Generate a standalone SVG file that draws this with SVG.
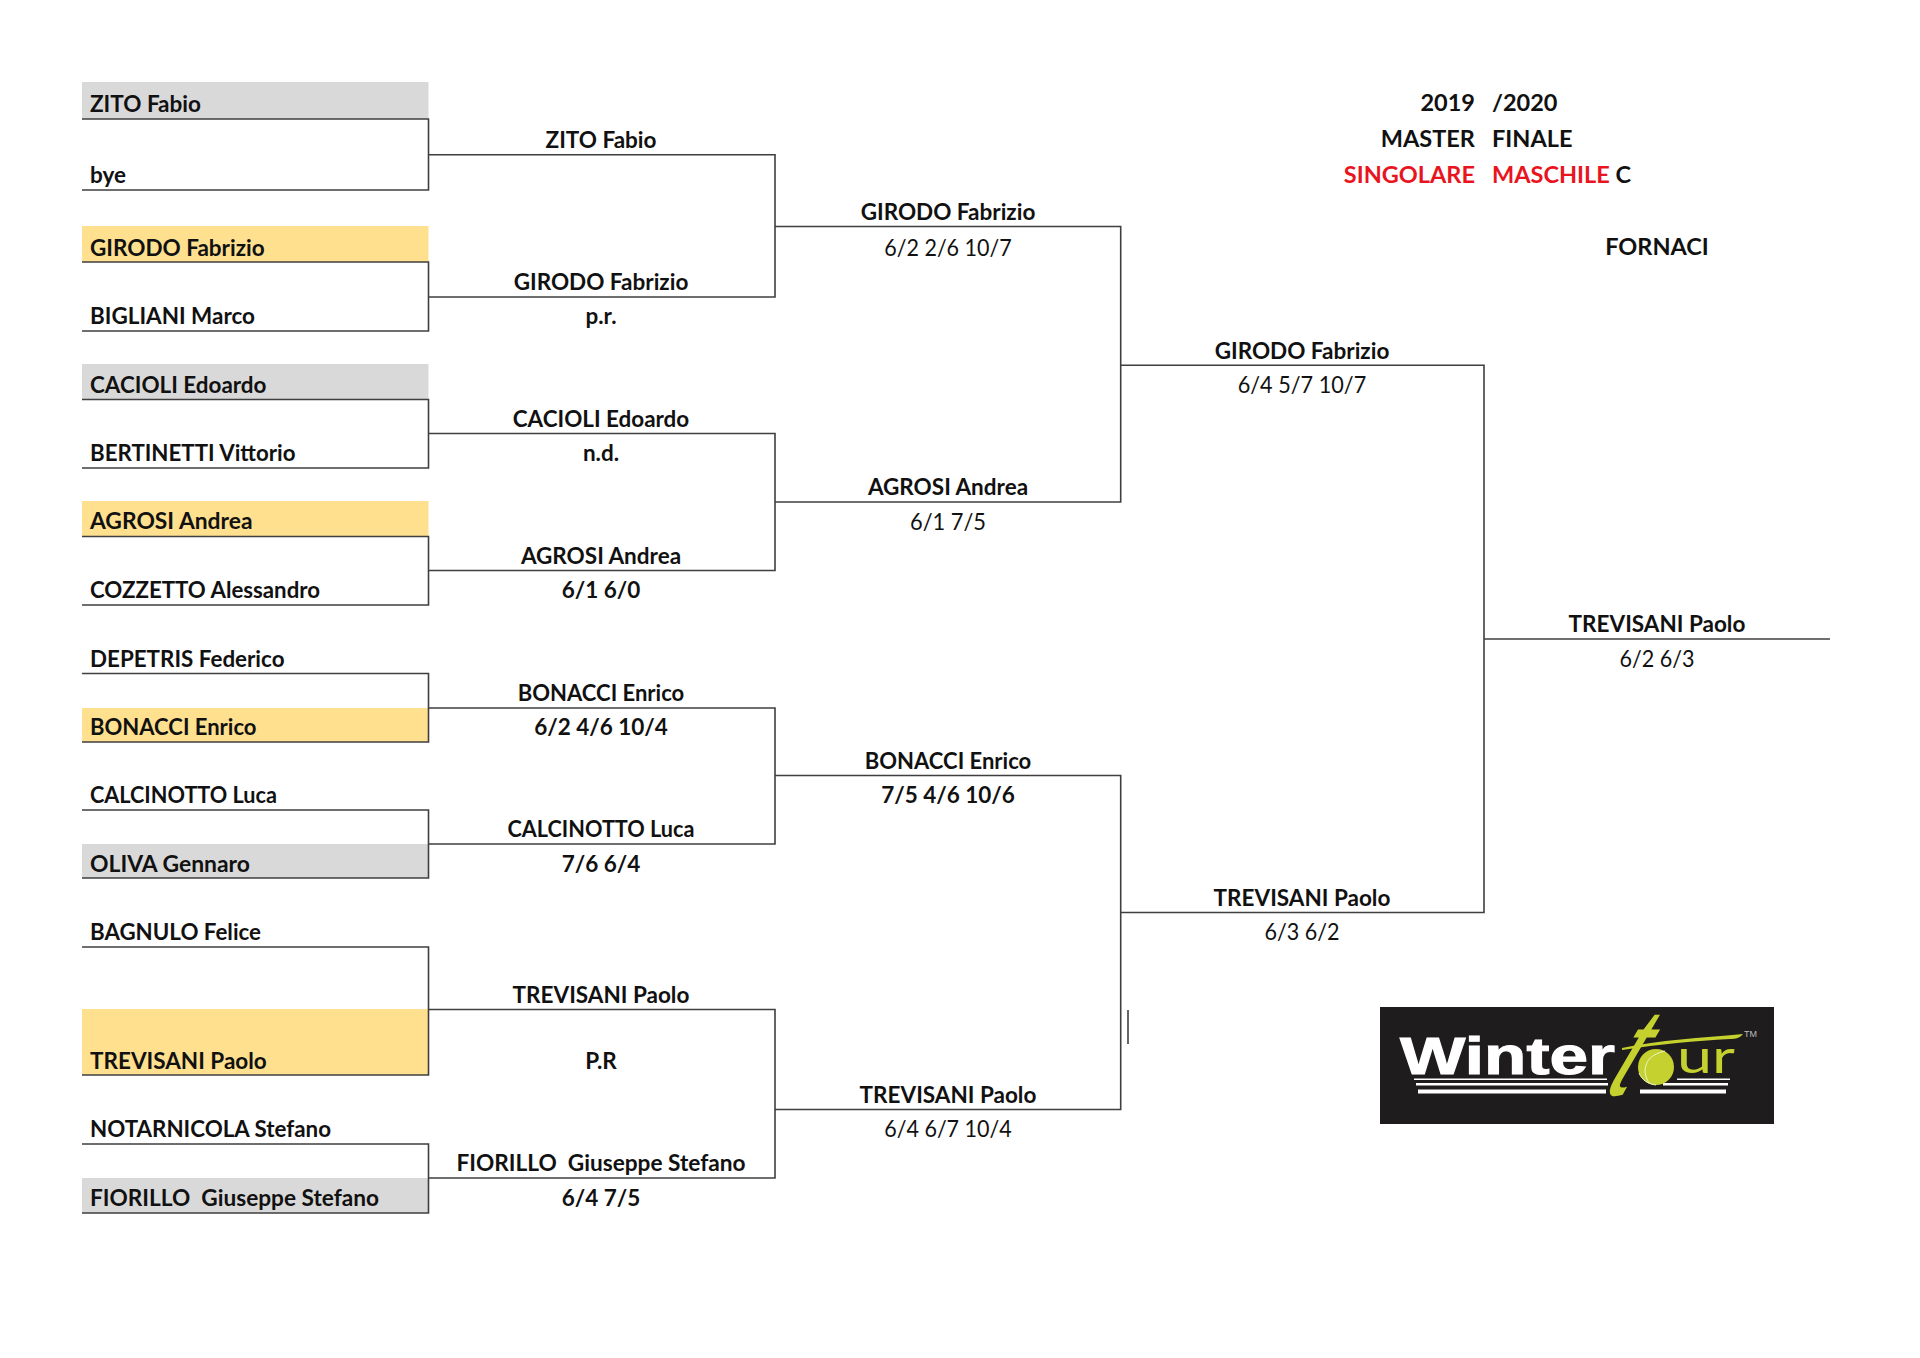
<svg xmlns="http://www.w3.org/2000/svg" width="1920" height="1358" viewBox="0 0 1920 1358">
<style>
text{font-family:"Lato","Carlito","Liberation Sans",sans-serif;font-size:22.5px;fill:#111;white-space:pre}
.b{font-weight:700}
.c{text-anchor:middle}
.e{text-anchor:end}
.red{fill:#e8141e}
.h{font-size:23.5px;font-weight:700}
.g{fill:#d9d9d9}
.y{fill:#ffe08f}
#connectors path{fill:none;stroke:#3f3f3f;stroke-width:1.6}
.stripe{fill:#fff}
.lime{fill:#c4d12e}
</style>
<rect width="1920" height="1358" fill="#fff"/>
<g id="fills">
<rect class="g" x="82" y="82" width="346.500" height="37"/>
<rect class="y" x="82" y="226" width="346.500" height="36"/>
<rect class="g" x="82" y="364" width="346.500" height="35.500"/>
<rect class="y" x="82" y="501" width="346.500" height="35.500"/>
<rect class="y" x="82" y="708" width="346.500" height="34"/>
<rect class="g" x="82" y="844" width="346.500" height="34"/>
<rect class="y" x="82" y="1009" width="346.500" height="66"/>
<rect class="g" x="82" y="1178" width="346.500" height="35"/>
</g>
<g id="connectors">
<path d="M82 119H428.500V190H82M428.500 154.700H775V297H428.500"/>
<path d="M82 262H428.500V331H82"/>
<path d="M82 399.500H428.500V468H82M428.500 433.500H775V570.500H428.500"/>
<path d="M82 536.500H428.500V605H82"/>
<path d="M82 673.500H428.500V742H82M428.500 708H775V844H428.500"/>
<path d="M82 810H428.500V878H82"/>
<path d="M82 947H428.500V1075H82M428.500 1009.500H775V1178H428.500"/>
<path d="M82 1144H428.500V1213H82"/>
<path d="M775 226.500H1120.700V502H775M1120.700 365.300H1484V912.500H1120.700"/>
<path d="M775 775.500H1120.700V1109.500H775"/>
<path d="M1484 639H1830"/>
<path d="M1128 1010V1044"/>
</g>
<g id="round1">
<text class="b" x="90" y="112">ZITO Fabio</text>
<text class="b" x="90" y="183">bye</text>
<text class="b" x="90" y="255.500">GIRODO Fabrizio</text>
<text class="b" x="90" y="324" textLength="165" lengthAdjust="spacingAndGlyphs">BIGLIANI Marco</text>
<text class="b" x="90" y="392.800" textLength="176.500" lengthAdjust="spacingAndGlyphs">CACIOLI Edoardo</text>
<text class="b" x="90" y="461" textLength="205.500" lengthAdjust="spacingAndGlyphs">BERTINETTI Vittorio</text>
<text class="b" x="90" y="528.800" textLength="162.500" lengthAdjust="spacingAndGlyphs">AGROSI Andrea</text>
<text class="b" x="90" y="598" textLength="230" lengthAdjust="spacingAndGlyphs">COZZETTO Alessandro</text>
<text class="b" x="90" y="666.500" textLength="194.500" lengthAdjust="spacingAndGlyphs">DEPETRIS Federico</text>
<text class="b" x="90" y="735" textLength="166.500" lengthAdjust="spacingAndGlyphs">BONACCI Enrico</text>
<text class="b" x="90" y="803" textLength="187" lengthAdjust="spacingAndGlyphs">CALCINOTTO Luca</text>
<text class="b" x="90" y="871.500" textLength="160" lengthAdjust="spacingAndGlyphs">OLIVA Gennaro</text>
<text class="b" x="90" y="940" textLength="171" lengthAdjust="spacingAndGlyphs">BAGNULO Felice</text>
<text class="b" x="90" y="1068.500">TREVISANI Paolo</text>
<text class="b" x="90" y="1137" textLength="241" lengthAdjust="spacingAndGlyphs">NOTARNICOLA Stefano</text>
<text class="b" x="90" y="1206" textLength="289" lengthAdjust="spacingAndGlyphs">FIORILLO  Giuseppe Stefano</text>
</g>
<g id="round2">
<text class="b c" x="601" y="147.500">ZITO Fabio</text>
<text class="b c" x="601" y="290">GIRODO Fabrizio</text>
<text class="b c" x="601" y="324">p.r.</text>
<text class="b c" x="601" y="426.500" textLength="176.500" lengthAdjust="spacingAndGlyphs">CACIOLI Edoardo</text>
<text class="b c" x="601" y="461">n.d.</text>
<text class="b c" x="601" y="563.500">AGROSI Andrea</text>
<text class="b c" x="601" y="598">6/1 6/0</text>
<text class="b c" x="601" y="701" textLength="166.500" lengthAdjust="spacingAndGlyphs">BONACCI Enrico</text>
<text class="b c" x="601" y="735">6/2 4/6 10/4</text>
<text class="b c" x="601" y="837" textLength="187" lengthAdjust="spacingAndGlyphs">CALCINOTTO Luca</text>
<text class="b c" x="601" y="871.500">7/6 6/4</text>
<text class="b c" x="601" y="1002.500">TREVISANI Paolo</text>
<text class="b c" x="601" y="1068.500">P.R</text>
<text class="b c" x="601" y="1171" textLength="289" lengthAdjust="spacingAndGlyphs">FIORILLO  Giuseppe Stefano</text>
<text class="b c" x="601" y="1206">6/4 7/5</text>
</g>
<g id="round3">
<text class="b c" x="948" y="219.500">GIRODO Fabrizio</text>
<text class="c" x="948" y="255.500" textLength="127.500" lengthAdjust="spacingAndGlyphs">6/2 2/6 10/7</text>
<text class="b c" x="948" y="495">AGROSI Andrea</text>
<text class="c" x="948" y="529.500" textLength="76" lengthAdjust="spacingAndGlyphs">6/1 7/5</text>
<text class="b c" x="948" y="768.800" textLength="166.500" lengthAdjust="spacingAndGlyphs">BONACCI Enrico</text>
<text class="b c" x="948" y="803">7/5 4/6 10/6</text>
<text class="b c" x="948" y="1102.800">TREVISANI Paolo</text>
<text class="c" x="948" y="1137" textLength="127.500" lengthAdjust="spacingAndGlyphs">6/4 6/7 10/4</text>
</g>
<g id="round4">
<text class="b c" x="1302" y="358.500">GIRODO Fabrizio</text>
<text class="c" x="1302" y="392.800" textLength="128.500" lengthAdjust="spacingAndGlyphs">6/4 5/7 10/7</text>
<text class="b c" x="1302" y="905.800">TREVISANI Paolo</text>
<text class="c" x="1302" y="940" textLength="75" lengthAdjust="spacingAndGlyphs">6/3 6/2</text>
</g>
<g id="final">
<text class="b c" x="1657" y="632">TREVISANI Paolo</text>
<text class="c" x="1657" y="666.500" textLength="75" lengthAdjust="spacingAndGlyphs">6/2 6/3</text>
</g>
<g id="header">
<text class="h e" x="1475" y="111">2019</text>
<text class="h" x="1492" y="111">/2020</text>
<text class="h e" x="1475" y="147">MASTER</text>
<text class="h" x="1492" y="147">FINALE</text>
<text class="h e red" x="1475" y="183">SINGOLARE</text>
<text class="h red" x="1492" y="183">MASCHILE</text>
<text class="h" x="1615.500" y="183">C</text>
<text class="h c" x="1657" y="255">FORNACI</text>
</g>
<g id="logo">
<rect x="1380" y="1007" width="394" height="117" fill="#1f1c1d"/>
<text x="1400" y="1074" textLength="215" lengthAdjust="spacingAndGlyphs" style="font-family:'Liberation Sans',sans-serif;font-weight:700;font-size:51px;fill:#fff;stroke:#fff;stroke-width:1">Winter</text>
<rect class="stripe" x="1414" y="1078.500" width="193" height="1.500"/>
<rect class="stripe" x="1416" y="1083" width="192" height="2.500"/>
<rect class="stripe" x="1418" y="1089.500" width="188" height="4"/>
<rect class="stripe" x="1677" y="1078.500" width="53" height="1.500"/>
<rect class="stripe" x="1663" y="1083" width="65" height="2.500"/>
<rect class="stripe" x="1640" y="1089.500" width="86" height="4"/>
<text transform="translate(1603 1095) skewX(-24) scale(.72 1)" style="font-family:'Liberation Sans',sans-serif;font-style:italic;font-size:124px;fill:#c4d12e">t</text>
<circle class="lime" cx="1656" cy="1067" r="18"/>
<path d="M1665 1051C1652 1054 1646 1060 1645 1070C1645 1075 1647 1080 1649 1083M1639 1073C1642 1080 1648 1084 1656 1085" fill="none" stroke="#f3f5d0" stroke-width="1"/>
<path d="M1622 1048C1660 1040 1700 1038 1743 1034C1740 1038 1736 1039 1730 1039C1695 1041 1660 1044 1622 1050Z" class="lime"/>
<text x="1677" y="1073" textLength="58" lengthAdjust="spacingAndGlyphs" style="font-family:'Lato',sans-serif;font-weight:400;font-size:47px;fill:#c4d12e">ur</text>
<text x="1744" y="1037" style="font-family:'Liberation Sans',sans-serif;font-size:9px;fill:#bbb">TM</text>
</g>
</svg>
